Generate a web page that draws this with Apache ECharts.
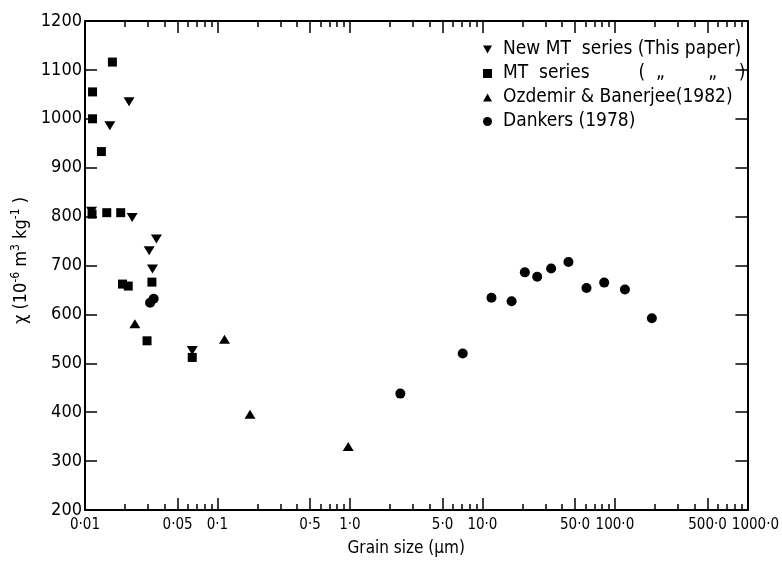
<!DOCTYPE html>
<html>
<head>
<meta charset="utf-8">
<script src="https://cdn.jsdelivr.net/npm/echarts@6/dist/echarts.min.js"></script>
<style>
html,body{margin:0;padding:0;background:#fff;}
#chart{width:782px;height:562px;}
</style>
</head>
<body>
<div id="chart"></div>
<script>
// ---- data (grain size in µm, susceptibility in 10^-6 m^3 kg^-1) ----
const newMT_x = [0.0112, 0.0154, 0.0215, 0.0227, 0.0346, 0.0305, 0.0323, 0.0645];
const newMT_y = [811, 986, 1035, 798, 754, 730, 693, 526];

const mt_x = [0.0161, 0.0114, 0.0114, 0.0133, 0.0113, 0.0146, 0.0186, 0.0192, 0.0212, 0.0320, 0.0294, 0.0645];
const mt_y = [1116, 1055, 1000, 933, 805, 808, 808, 662, 658, 666, 546, 512];

const oz_x = [0.0238, 0.113, 0.176, 0.97];
const oz_y = [581, 549, 396, 330];

const dk_x = [0.031, 0.033, 2.4, 7.1, 11.7, 16.6, 20.9, 25.9, 33.0, 44.6, 61, 83, 119, 190];
const dk_y = [624, 632, 438, 520, 634, 627, 686, 677, 694, 707, 654, 665, 651, 592];

const seriesNames = [
  'New MT  series (This paper)',
  'MT  series         (  \u201E        \u201E    )',
  'Ozdemir & Banerjee(1982)',
  'Dankers (1978)'
];

const xLabelValues = [0.01, 0.05, 0.1, 0.5, 1, 5, 10, 50, 100, 500, 1000];
const xLabelTexts  = ['0\u00B701', '0\u00B705', '0\u00B71', '0\u00B75', '1\u00B70', '5\u00B70', '10\u00B70', '50\u00B70', '100\u00B70', '500\u00B70', '1000\u00B70'];
const xMajorTicks = [0.05, 0.1, 0.5, 1, 5, 10, 50, 100, 500, 1000];
const xMinorTicks = [0.02, 0.03, 0.04, 0.06, 0.07, 0.08, 0.09,
                     0.2, 0.3, 0.4, 0.6, 0.7, 0.8, 0.9,
                     2, 3, 4, 6, 7, 8, 9,
                     20, 30, 40, 60, 70, 80, 90,
                     200, 300, 400, 600, 700, 800, 900];

const FONT = "'DejaVu Sans Condensed', 'Liberation Sans Narrow', 'DejaVu Sans', sans-serif";

function pairs(xs, ys) { return xs.map((x, i) => [x, ys[i]]); }

function fmtX(v) {
  for (let i = 0; i < xLabelValues.length; i++) {
    if (Math.abs(Math.log10(v) - Math.log10(xLabelValues[i])) < 1e-6) return xLabelTexts[i];
  }
  return '';
}

function xAxisCfg(position, ticks, len, labelValues, withLine, name, labelPad) {
  return {
    type: 'log', logBase: 10, min: 0.01, max: 1000, position: position,
    gridIndex: 0,
    name: name || '',
    nameLocation: 'middle', nameGap: 30,
    nameTextStyle: { fontFamily: FONT, fontSize: 17, color: '#000', padding: [0, 20, 0, 0] },
    axisLine: { show: withLine, onZero: false, lineStyle: { color: '#000', width: 2 } },
    axisTick: ticks ? { show: true, inside: true, length: len, customValues: ticks, lineStyle: { color: '#000', width: 1.5 } } : { show: false },
    axisLabel: labelValues ? {
      show: true, customValues: labelValues, formatter: fmtX,
      showMinLabel: true, showMaxLabel: true, hideOverlap: false,
      padding: labelPad || 0,
      fontFamily: FONT, fontSize: 15, color: '#000', margin: 8
    } : { show: false },
    splitLine: { show: false },
    minorTick: { show: false }
  };
}

const chart = echarts.init(document.getElementById('chart'), null, { renderer: 'canvas' });

const symbolSizeTri = [11, 9];

chart.setOption({
  backgroundColor: '#fff',
  animation: false,
  grid: { left: 85, right: 33, top: 21, bottom: 50, containLabel: false },
  legend: {
    orient: 'vertical', left: 478, top: 35,
    itemWidth: 9, itemHeight: 9, itemGap: 5,
    textStyle: { fontFamily: FONT, fontSize: 19, color: '#000', padding: [0, 0, 0, 6] },
    data: [
      { name: seriesNames[0], icon: 'path://M0,0L10,0L5,9Z' },
      { name: seriesNames[1], icon: 'rect' },
      { name: seriesNames[2], icon: 'path://M5,0L10,9L0,9Z' },
      { name: seriesNames[3], icon: 'circle' }
    ]
  },
  xAxis: [
    xAxisCfg('bottom', xMajorTicks, 12, xLabelValues.slice(0, -1), true, 'Grain size (\u03BCm)'),
    xAxisCfg('bottom', xMinorTicks, 6, null, false),
    xAxisCfg('top', xMajorTicks, 12, null, true),
    xAxisCfg('top', xMinorTicks, 6, null, false),
    xAxisCfg('bottom', null, 0, xLabelValues.slice(-1), false, '', [0, 0, 0, 16])
  ],
  yAxis: [
    {
      type: 'value', min: 200, max: 1200, interval: 100, position: 'left',
      name: '{a|\u03C7 (10}{s|-6}{a| m}{s|3}{a| kg}{s|-1}{a| )}',
      nameLocation: 'middle', nameGap: 40,
      nameTextStyle: {
        padding: [0, 0, 0, 10],
        rich: {
          a: { fontFamily: FONT, fontSize: 18, color: '#000' },
          s: { fontFamily: FONT, fontSize: 12, color: '#000', padding: [0, 0, 10, 0] }
        }
      },
      axisLine: { show: true, onZero: false, lineStyle: { color: '#000', width: 2 } },
      axisTick: { show: true, inside: true, length: 12, lineStyle: { color: '#000', width: 1.5 } },
      axisLabel: { fontFamily: FONT, fontSize: 18, color: '#000', margin: 3, formatter: v => String(v) },
      splitLine: { show: false }
    },
    {
      type: 'value', min: 200, max: 1200, interval: 100, position: 'right',
      axisLine: { show: true, onZero: false, lineStyle: { color: '#000', width: 2 } },
      axisTick: { show: true, inside: true, length: 12, lineStyle: { color: '#000', width: 1.5 } },
      axisLabel: { show: false },
      splitLine: { show: false }
    }
  ],
  series: [
    {
      name: seriesNames[0], type: 'scatter', xAxisIndex: 0, yAxisIndex: 0,
      symbol: 'path://M0,0L10,0L5,9Z', symbolSize: symbolSizeTri,
      itemStyle: { color: '#000', opacity: 1 }, data: pairs(newMT_x, newMT_y)
    },
    {
      name: seriesNames[1], type: 'scatter', xAxisIndex: 0, yAxisIndex: 0,
      symbol: 'rect', symbolSize: 9,
      itemStyle: { color: '#000', opacity: 1 }, data: pairs(mt_x, mt_y)
    },
    {
      name: seriesNames[2], type: 'scatter', xAxisIndex: 0, yAxisIndex: 0,
      symbol: 'path://M5,0L10,9L0,9Z', symbolSize: symbolSizeTri,
      itemStyle: { color: '#000', opacity: 1 }, data: pairs(oz_x, oz_y)
    },
    {
      name: seriesNames[3], type: 'scatter', xAxisIndex: 0, yAxisIndex: 0,
      symbol: 'circle', symbolSize: 10,
      itemStyle: { color: '#000', opacity: 1 }, data: pairs(dk_x, dk_y)
    }
  ]
});
</script>
</body>
</html>
